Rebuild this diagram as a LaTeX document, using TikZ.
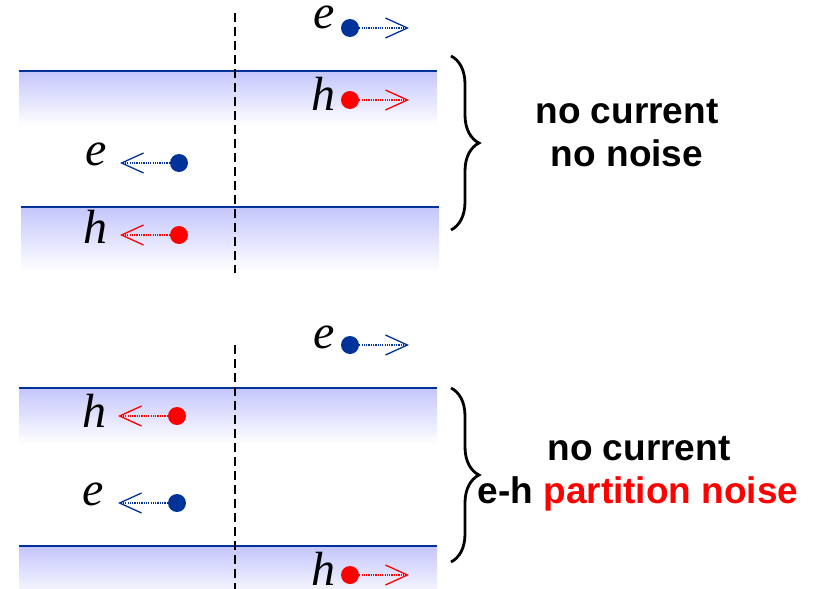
\documentclass[tikz,border=0pt]{standalone}
\usepackage{fontspec}
\setsansfont{Liberation Sans}
\newfontfamily\lettfont{Liberation Serif}
\usetikzlibrary{arrows.meta,decorations.pathreplacing}

\definecolor{eblue}{RGB}{0,51,153}
\definecolor{hred}{RGB}{255,0,0}
\definecolor{bandcol}{RGB}{196,198,252}

\tikzset{
    edot/.style={circle, fill=eblue, inner sep=0pt, minimum size=18pt},
    hdot/.style={circle, fill=hred, inner sep=0pt, minimum size=18pt},
    move/.style={line width=1.2pt, dash pattern=on 1.2pt off 1.1pt,
        -{Straight Barb[length=22pt,width=20pt,line width=1.3pt]}},
    lbl/.style={font=\lettfont\itshape\fontsize{48}{48}\selectfont, inner sep=0pt, anchor=base},
    band/.style={top color=bandcol, bottom color=white, draw=none},
    edge/.style={eblue, line width=2pt},
    gate/.style={black, line width=1.3pt, dash pattern=on 9pt off 5pt},
    curly/.style={decorate, decoration={brace, amplitude=28pt, aspect=0.5}, line width=2.8pt},
    note/.style={font=\sffamily\bfseries\fontsize{37}{43}\selectfont, inner sep=0pt, anchor=base}
}

\begin{document}
\begin{tikzpicture}[x=1pt, y=-1pt]
    \useasboundingbox (0,0) rectangle (820,589);

    % Edge bands, upper panel
    \fill[band] (19,71) rectangle (437,126);
    \fill[band] (21,207) rectangle (439,271);
    \draw[edge] (19,71) -- (437,71);
    \draw[edge] (21,207) -- (439,207);
    \coordinate (gA1) at (235,13);
    \coordinate (gA2) at (235,273);
    \draw[gate] (gA1) -- (gA2);

    % Particles, upper panel
    \node[edot] (eA) at (350,28) {};
    \node[lbl] (leA) at (324,28) {e};
    \coordinate (eAend) at (409,28);
    \draw[move, eblue] (eA) -- (eAend);

    \node[hdot] (hA) at (350,100) {};
    \node[lbl] (lhA) at (323,110) {h};
    \coordinate (hAend) at (409,100);
    \draw[move, hred] (hA) -- (hAend);

    \node[edot] (eB) at (179,163) {};
    \node[lbl] (leB) at (96,165) {e};
    \coordinate (eBend) at (120,163);
    \draw[move, eblue] (eB) -- (eBend);

    \node[hdot] (hB) at (179,235) {};
    \node[lbl] (lhB) at (95,243) {h};
    \coordinate (hBend) at (120,235);
    \draw[move, hred] (hB) -- (hBend);

    % Brace and remark, upper panel
    \coordinate (brA1) at (451,56);
    \coordinate (brA2) at (451,230);
    \draw[curly] (brA1) -- (brA2);
    \node[note] (curA) at (627,123) {no current};
    \node[note] (noiseA) at (627,166) {no noise};

    % Edge bands, lower panel
    \fill[band] (19,388) rectangle (437,444);
    \fill[band] (19,546) rectangle (437,600);
    \draw[edge] (19,388) -- (437,388);
    \draw[edge] (19,546) -- (437,546);
    \coordinate (gB1) at (235,345);
    \coordinate (gB2) at (235,589);
    \draw[gate] (gB1) -- (gB2);

    % Particles, lower panel
    \node[edot] (eC) at (350,345) {};
    \node[lbl] (leC) at (324,348) {e};
    \coordinate (eCend) at (409,345);
    \draw[move, eblue] (eC) -- (eCend);

    \node[hdot] (hC) at (177,416) {};
    \node[lbl] (lhC) at (94,427) {h};
    \coordinate (hCend) at (118,416);
    \draw[move, hred] (hC) -- (hCend);

    \node[edot] (eD) at (177,503) {};
    \node[lbl] (leD) at (93,505) {e};
    \coordinate (eDend) at (118,503);
    \draw[move, eblue] (eD) -- (eDend);

    \node[hdot] (hD) at (350,575) {};
    \node[lbl] (lhD) at (323,585) {h};
    \coordinate (hDend) at (409,575);
    \draw[move, hred] (hD) -- (hDend);

    % Brace and remark, lower panel
    \coordinate (brB1) at (451,388);
    \coordinate (brB2) at (451,562);
    \draw[curly] (brB1) -- (brB2);
    \node[note] (curB) at (639,460) {no current};
    \node[note] (noiseB) at (638,503) {e-h \textcolor{hred}{partition noise}};
\end{tikzpicture}
\end{document}
